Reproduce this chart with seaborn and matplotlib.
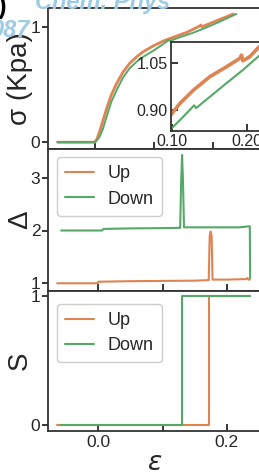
import numpy as np
import pandas as pd
import matplotlib
matplotlib.use("Agg")
import matplotlib.pyplot as plt
import seaborn as sns

# ---------------- data ----------------
series_names = ["Up", "Down"]

# stress-strain curves (main panel)
sig_eps_up = [-0.064, -0.001, 0.003, 0.007, 0.013, 0.019, 0.027, 0.036, 0.047, 0.058,
              0.070, 0.081, 0.098, 0.115, 0.132, 0.155, 0.177, 0.179, 0.181, 0.206, 0.234]
sig_val_up = [0.0, 0.0, 0.03, 0.087, 0.19, 0.29, 0.41, 0.51, 0.61, 0.685,
              0.743, 0.787, 0.837, 0.88, 0.913, 0.956, 1.011, 1.02, 1.005, 1.058, 1.116]
sig_eps_dn = [-0.064, 0.0, 0.007, 0.013, 0.019, 0.027, 0.036, 0.047, 0.058, 0.070,
              0.081, 0.098, 0.115, 0.125, 0.127, 0.143, 0.166, 0.189, 0.211, 0.239]
sig_val_dn = [0.0, 0.0, 0.044, 0.117, 0.219, 0.35, 0.452, 0.563, 0.642, 0.70,
              0.743, 0.795, 0.854, 0.89, 0.882, 0.913, 0.953, 1.0, 1.049, 1.116]

# inset (zoom of the stress curves)
ins_eps_up = [0.0977, 0.111, 0.129, 0.151, 0.173, 0.191, 0.193, 0.195, 0.204, 0.216, 0.232]
ins_val_up = [0.881, 0.921, 0.963, 1.006, 1.037, 1.064, 1.074, 1.056, 1.069, 1.099, 1.125]
ins_eps_dn = [0.0987, 0.111, 0.124, 0.130, 0.1325, 0.151, 0.173, 0.195, 0.216, 0.232]
ins_val_dn = [0.839, 0.868, 0.90, 0.915, 0.906, 0.942, 0.985, 1.027, 1.071, 1.10]

# Delta
del_eps_up = [-0.064, -0.001, 0.000, 0.05, 0.10, 0.15, 0.172, 0.1735, 0.175, 0.1765,
              0.178, 0.20, 0.230, 0.2325, 0.234, 0.236]
del_val_up = [1.00, 1.00, 1.03, 1.04, 1.045, 1.05, 1.06, 1.90, 1.98, 1.90,
              1.07, 1.07, 1.08, 1.10, 1.07, 1.07]
del_eps_dn = [-0.058, 0.006, 0.008, 0.05, 0.10, 0.1275, 0.129, 0.1305, 0.132, 0.1335,
              0.18, 0.22, 0.235, 0.236, 0.2365]
del_val_dn = [2.00, 2.00, 2.03, 2.04, 2.045, 2.05, 2.90, 3.43, 2.90, 2.06,
              2.06, 2.06, 2.08, 2.08, 1.10]

# S
s_eps_up = [-0.064, 0.173, 0.173, 0.236]
s_val_up = [0, 0, 1, 1]
s_eps_dn = [-0.058, 0.130, 0.130, 0.236]
s_val_dn = [0, 0, 1, 1]

# ticks
sig_ticks = [0, 1]
del_ticks = [1, 2, 3]
s_ticks = [0, 1]
x_ticks = [0.0, 0.1, 0.2]
x_ticklabels = ["0.0", "", "0.2"]
ins_xticks = [0.10, 0.20]
ins_yticks = [0.90, 1.05]

# ---------------- styling ----------------
sns.set_theme(style="ticks")
plt.rcParams["font.family"] = ["Liberation Sans", "DejaVu Sans"]
plt.rcParams["mathtext.fontset"] = "dejavusans"

ORANGE = "#DD8452"
GREEN = "#55A868"
SPINE = "#333333"
TXT = "#262626"

W, H = 259, 475
fig = plt.figure(figsize=(W / 100, H / 100), dpi=100)
fig.patch.set_facecolor("white")


def box(left, top, right, bottom):
    return [left / W, 1 - bottom / H, (right - left) / W, (bottom - top) / H]


def lims_from_px(p0, v0, p1, v1, plo, phi):
    k = (v1 - v0) / (p1 - p0)
    return v0 + (plo - p0) * k, v0 + (phi - p0) * k


# watermark / panel-label fragments behind everything
fig.text(35 / W, 1 - 9 / H, "Chem. Phys", color="#9fcbe3", fontsize=17,
         fontstyle="italic", fontweight="bold", ha="left", va="baseline", zorder=0)
fig.text(-10 / W, 1 - 37 / H, "087", color="#9fcbe3", fontsize=17,
         fontstyle="italic", fontweight="bold", ha="left", va="baseline", zorder=0)
fig.text(7 / W, 1 - 14 / H, "(a)", color="black", fontsize=18,
         fontweight="bold", ha="right", va="baseline", zorder=0)

L, R = 48, 272
ax1 = fig.add_axes(box(L, 8, R, 149))
ax2 = fig.add_axes(box(L, 149, R, 290.7))
ax3 = fig.add_axes(box(L, 291, R, 430.7))
axin = fig.add_axes(box(170.7, 42.3, R, 131))

for ax in (ax1, ax2, ax3, axin):
    ax.set_facecolor("white")
    ax.patch.set_alpha(1)
    for sp in ax.spines.values():
        sp.set_color(SPINE)
        sp.set_linewidth(1.3)
        sp.set_visible(True)

# main stress panel
sns.lineplot(x=sig_eps_up, y=sig_val_up, color=ORANGE, linewidth=2.0,
             estimator=None, sort=False, ax=ax1)
sns.lineplot(x=sig_eps_dn, y=sig_val_dn, color=GREEN, linewidth=1.4,
             estimator=None, sort=False, ax=ax1)
ax1.set_xlim(*lims_from_px(95.3, 0.0, 213.3, 0.2, L, R))
ax1.set_ylim(*lims_from_px(142.2, 0.0, 27.3, 1.0, 149, 8))
ax1.set_yticks(sig_ticks)
ax1.set_yticklabels([str(t) for t in sig_ticks])
ax1.set_xticks(x_ticks)
ax1.set_xticklabels([])
ax1.set_ylabel("σ (Kpa)", fontsize=20, color=TXT)

# inset
sns.lineplot(x=ins_eps_up, y=ins_val_up, color=ORANGE, linewidth=2.6,
             estimator=None, sort=False, ax=axin)
sns.lineplot(x=ins_eps_dn, y=ins_val_dn, color=GREEN, linewidth=1.5,
             estimator=None, sort=False, ax=axin)
axin.set_xlim(*lims_from_px(171.7, 0.10, 246.7, 0.20, 170.7, R))
axin.set_ylim(*lims_from_px(110, 0.90, 62.7, 1.05, 131, 42.3))
axin.set_xticks(ins_xticks)
axin.set_xticklabels(["%.2f" % t for t in ins_xticks])
axin.set_yticks(ins_yticks)
axin.set_yticklabels(["%.2f" % t for t in ins_yticks])
axin.tick_params(axis="both", direction="in", length=5, width=1.3, pad=2,
                 labelsize=11.5, colors=TXT)

# Delta panel
sns.lineplot(x=del_eps_up, y=del_val_up, color=ORANGE, linewidth=1.5,
             estimator=None, sort=False, ax=ax2, label=series_names[0])
sns.lineplot(x=del_eps_dn, y=del_val_dn, color=GREEN, linewidth=1.5,
             estimator=None, sort=False, ax=ax2, label=series_names[1])
ax2.set_xlim(*lims_from_px(98.3, 0.0, 226.7, 0.2, L, R))
ax2.set_ylim(*lims_from_px(283.3, 1.0, 177.7, 3.0, 290.7, 149))
ax2.set_yticks(del_ticks)
ax2.set_yticklabels([str(t) for t in del_ticks])
ax2.set_xticks(x_ticks)
ax2.set_xticklabels([])
ax2.set_ylabel("Δ", fontsize=20, color=TXT)

# S panel
sns.lineplot(x=s_eps_up, y=s_val_up, color=ORANGE, linewidth=1.5,
             estimator=None, sort=False, ax=ax3, label=series_names[0])
sns.lineplot(x=s_eps_dn, y=s_val_dn, color=GREEN, linewidth=1.5,
             estimator=None, sort=False, ax=ax3, label=series_names[1])
ax3.set_xlim(*lims_from_px(98.3, 0.0, 226.7, 0.2, L, R))
ax3.set_ylim(*lims_from_px(425, 0.0, 296, 1.0, 430.7, 291))
ax3.set_yticks(s_ticks)
ax3.set_yticklabels([str(t) for t in s_ticks])
ax3.set_xticks(x_ticks)
ax3.set_xticklabels(x_ticklabels)
ax3.set_ylabel("S", fontsize=20, color=TXT)
ax3.set_xlabel(r"$\varepsilon$", fontsize=19, color=TXT)
ax3.xaxis.set_label_coords((155 - L) / (R - L), -(451 - 430.7) / (430.7 - 291))

for ax in (ax1, ax2, ax3):
    ax.tick_params(axis="y", direction="out", length=4, width=1.3, pad=1.5,
                   labelsize=12.5, colors=TXT, left=True)
    ax.tick_params(axis="x", direction="in", length=5, width=1.3, pad=3,
                   labelsize=12.5, colors=TXT, bottom=True)
    ax.yaxis.set_label_coords((33 - L) / (R - L), 0.5)

legend_kw = dict(loc="upper left", fontsize=13, frameon=True, fancybox=True,
                 framealpha=1, edgecolor="#cccccc", borderaxespad=0,
                 handlelength=1.6, handletextpad=0.75, borderpad=0.45,
                 labelspacing=0.45)
for ax, top_px, ax_top, ax_bot in ((ax2, 157.3, 149, 290.7), (ax3, 304, 291, 430.7)):
    lg = ax.legend(bbox_to_anchor=((57.3 - L) / (R - L),
                                   1 - (top_px - ax_top) / (ax_bot - ax_top)),
                   **legend_kw)
    for t in lg.get_texts():
        t.set_color(TXT)

fig.savefig("out.png", dpi=100, facecolor="white")
